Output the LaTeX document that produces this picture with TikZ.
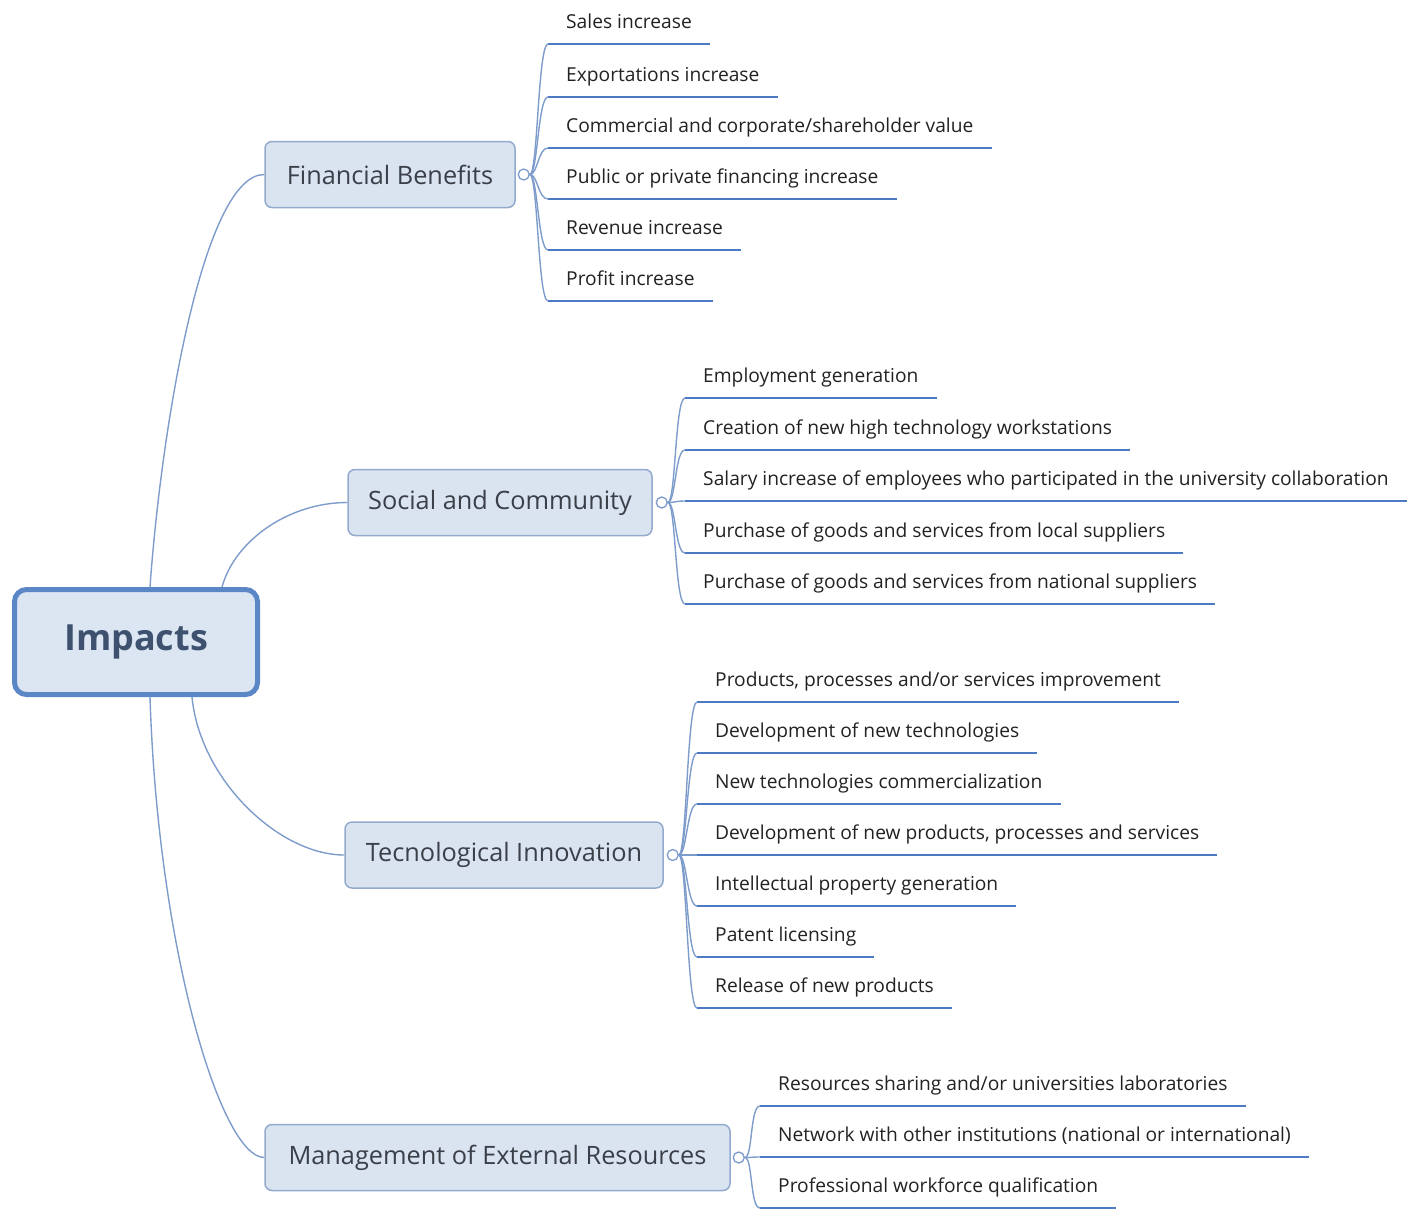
\documentclass[tikz,border=0pt]{standalone}
\usepackage{fontspec}
\setmainfont{Open Sans}
\usetikzlibrary{calc}
\definecolor{rootline}{HTML}{5B87C7}
\definecolor{rootfill}{HTML}{DCE6F2}
\definecolor{boxline}{HTML}{93AACD}
\definecolor{boxfill}{HTML}{DAE4F1}
\definecolor{wire}{HTML}{7E9CCB}
\definecolor{uline}{HTML}{4D7BC3}
\definecolor{ink}{HTML}{222222}
\definecolor{boxink}{HTML}{3A3F48}
\definecolor{rootink}{HTML}{3E5270}
\begin{document}
\begin{tikzpicture}[x=1pt,y=-1pt,
  rootbox/.style={draw=rootline, line width=5pt, fill=rootfill, rounded corners=12pt,
    minimum width=243pt, minimum height=105pt, inner sep=0pt,
    font=\fontsize{36}{40}\selectfont\bfseries, text=rootink},
  branch/.style={draw=boxline, line width=1.5pt, fill=boxfill, rounded corners=7pt,
    minimum height=66pt, inner sep=0pt, font=\fontsize{25.3}{30}\selectfont, text=boxink},
  knob/.style={circle, draw=wire, line width=1.3pt, fill=white, minimum size=11pt, inner sep=0pt},
  wire/.style={draw=wire, line width=1.4pt},
  underline/.style={draw=uline, line width=2.2pt},
  leaf/.style={anchor=south west, inner xsep=18pt, inner ysep=0pt,
    text height=14pt, text depth=15pt, font=\fontsize{19.2}{23}\selectfont, text=ink,
    append after command={(\tikzlastnode.south west) edge[underline] (\tikzlastnode.south east)}},
]
\useasboundingbox (0,0) rectangle (1421,1210);

% central topic and main branches
\node[rootbox] (root) at (136,642) {Impacts};
\node[branch, minimum width=250pt] (fb)  at (390,174.5)  {Financial Benefits};
\node[branch, minimum width=304pt] (sc)  at (500,502.5)  {Social and Community};
\node[branch, minimum width=318pt] (ti)  at (504,855)    {Tecnological Innovation};
\node[branch, minimum width=465pt] (mer) at (497.5,1157.5) {Management of External Resources};

% attachment points on the central topic
\coordinate (rfb)  at ($(root.north west)+(138,0)$);
\coordinate (rsc)  at ($(root.north west)+(210,0)$);
\coordinate (rti)  at ($(root.south west)+(180,0)$);
\coordinate (rmer) at ($(root.south west)+(138,0)$);

\draw[wire] (rfb)  .. controls +(12,-167) and +(-60,0) .. (fb.west);
\draw[wire] (rsc)  .. controls +(13,-47)  and +(-58,0) .. (sc.west);
\draw[wire] (rti)  .. controls +(8,83)    and +(-65,0) .. (ti.west);
\draw[wire] (rmer) .. controls +(8,253)   and +(-43,0) .. (mer.west);

% collapse knobs
\node[knob] (fbk)  at ($(fb.east)+(8,0)$) {};
\node[knob] (sck)  at ($(sc.east)+(9,0)$) {};
\node[knob] (tik)  at ($(ti.east)+(9,0)$) {};
\node[knob] (merk) at ($(mer.east)+(8,0)$) {};

% Financial Benefits
\node[leaf] (fb1) at (548,44)  {Sales increase};
\node[leaf] (fb2) at (548,97)  {Exportations increase};
\node[leaf] (fb3) at (548,148) {Commercial and corporate/shareholder value};
\node[leaf] (fb4) at (548,199) {Public or private financing increase};
\node[leaf] (fb5) at (548,250) {Revenue increase};
\node[leaf] (fb6) at (548,301) {Profit increase};
\foreach \i in {1,...,6}
  \draw[wire] (fbk) .. controls +(14,0) and +(-10,0) .. (fb\i.south west);

% Social and Community
\node[leaf] (sc1) at (685,398) {Employment generation};
\node[leaf] (sc2) at (685,450) {Creation of new high technology workstations};
\node[leaf] (sc3) at (685,501) {Salary increase of employees who participated in the university collaboration};
\node[leaf] (sc4) at (685,553) {Purchase of goods and services from local suppliers};
\node[leaf] (sc5) at (685,604) {Purchase of goods and services from national suppliers};
\foreach \i in {1,...,5}
  \draw[wire] (sck) .. controls +(14,0) and +(-10,0) .. (sc\i.south west);

% Tecnological Innovation
\node[leaf] (ti1) at (697,702)  {Products, processes and/or services improvement};
\node[leaf] (ti2) at (697,753)  {Development of new technologies};
\node[leaf] (ti3) at (697,804)  {New technologies commercialization};
\node[leaf] (ti4) at (697,855)  {Development of new products, processes and services};
\node[leaf] (ti5) at (697,906)  {Intellectual property generation};
\node[leaf] (ti6) at (697,957)  {Patent licensing};
\node[leaf] (ti7) at (697,1008) {Release of new products};
\foreach \i in {1,...,7}
  \draw[wire] (tik) .. controls +(14,0) and +(-10,0) .. (ti\i.south west);

% Management of External Resources
\node[leaf] (mer1) at (760,1106) {Resources sharing and/or universities laboratories};
\node[leaf] (mer2) at (760,1157) {Network with other institutions (national or international)};
\node[leaf] (mer3) at (760,1208) {Professional workforce qualification};
\foreach \i in {1,...,3}
  \draw[wire] (merk) .. controls +(14,0) and +(-10,0) .. (mer\i.south west);
\end{tikzpicture}
\end{document}
